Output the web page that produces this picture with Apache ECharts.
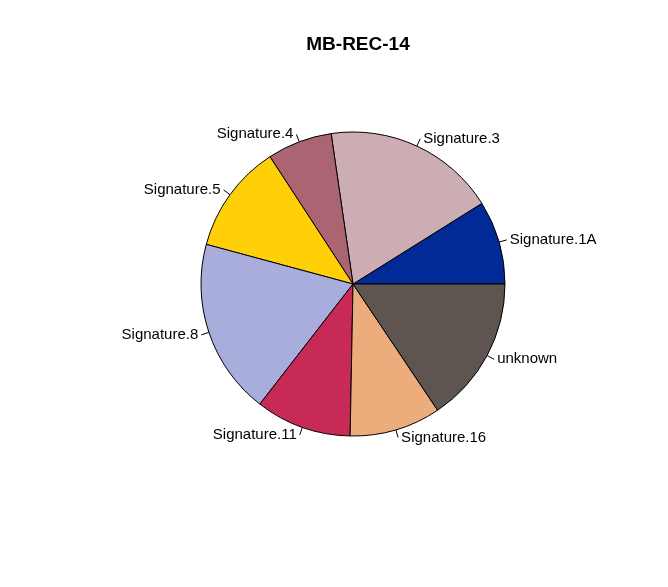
<!DOCTYPE html>
<html>
<head>
<meta charset="utf-8">
<script src="https://cdn.jsdelivr.net/npm/echarts@6/dist/echarts.min.js"></script>
<style>html,body{margin:0;padding:0;background:#fff}#c{width:668px;height:587px}</style>
</head>
<body>
<div id="c"></div>
<script>
var categories = ['Signature.1A', 'Signature.3', 'Signature.4', 'Signature.5', 'Signature.8', 'Signature.11', 'Signature.16', 'unknown'];
var values = [8.9, 18.4, 6.9, 11.6, 18.7, 10.2, 9.7, 15.6];
var colors = ['#012A96', '#CDADB4', '#AB6472', '#FFD008', '#A9ADDB', '#C82A58', '#EDAC7C', '#5E5450'];

var chart = echarts.init(document.getElementById('c'));
chart.setOption({
  animation: false,
  title: {
    text: 'MB-REC-14', left: 353, top: 30, textAlign: 'center',
    textStyle: { fontFamily: 'Liberation Sans', fontSize: 19, fontWeight: 'bold', color: '#000' }
  },
  series: [{
    type: 'pie',
    center: [353, 284],
    radius: 152,
    startAngle: 0,
    clockwise: false,
    color: colors,
    itemStyle: { borderColor: '#000', borderWidth: 1 },
    label: {
      show: true, position: 'outside', color: '#000',
      fontFamily: 'Liberation Sans', fontSize: 15, distanceToLabelLine: 3
    },
    labelLine: { show: true, length: 8, length2: 0, lineStyle: { color: '#000', width: 1 } },
    emphasis: { disabled: true },
    data: categories.map(function (n, i) { return { name: n, value: values[i] }; })
  }]
});
</script>
</body>
</html>
